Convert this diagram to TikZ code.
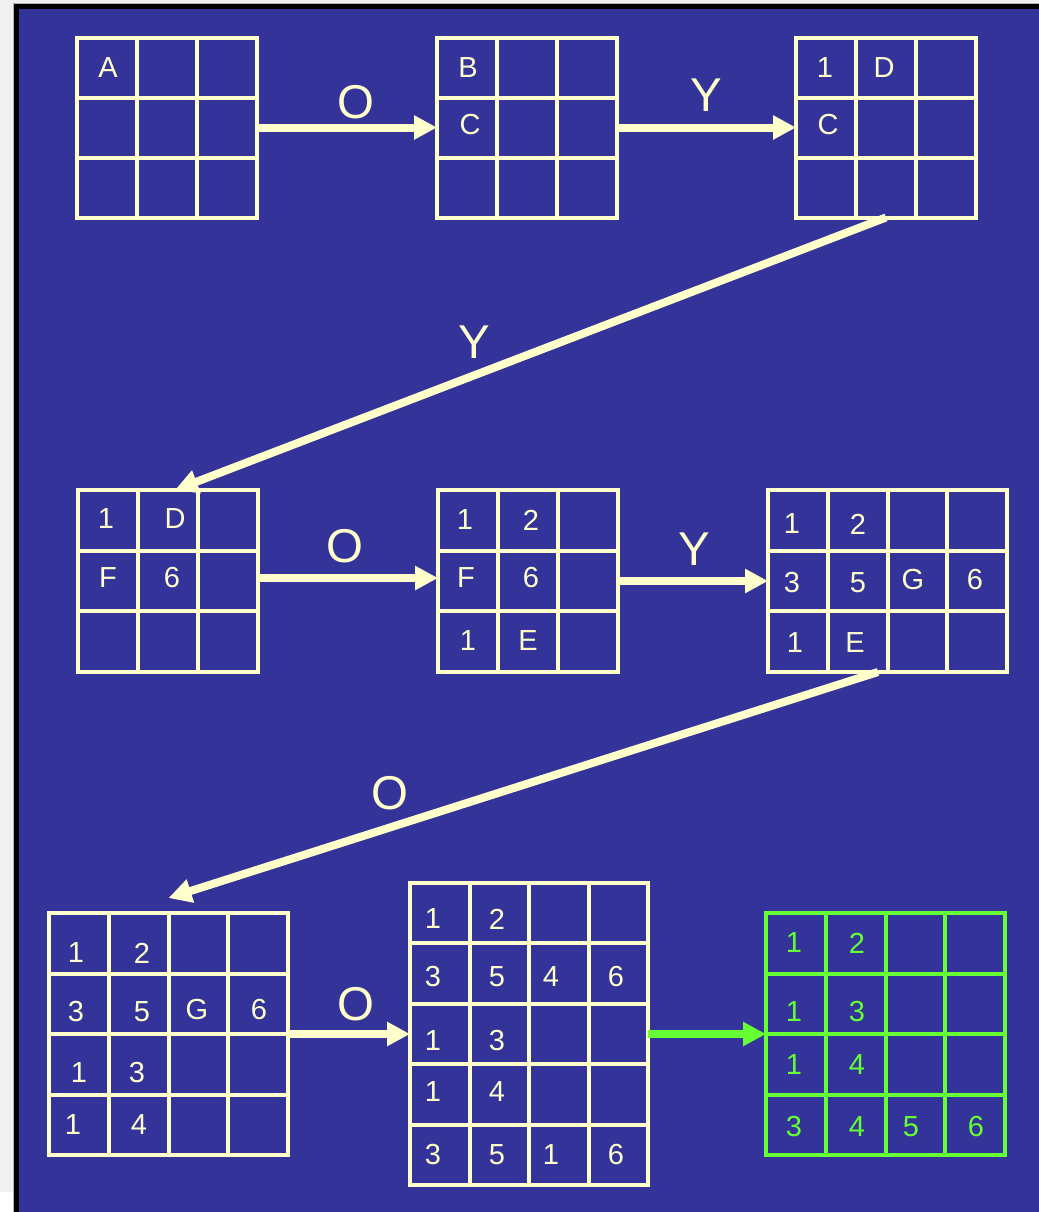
\documentclass[tikz,border=0pt]{standalone}
\usepackage{fontspec}
\setmainfont{Liberation Sans}
\usetikzlibrary{arrows.meta,calc}
\definecolor{slideblue}{RGB}{51,51,153}
\definecolor{chalk}{RGB}{255,255,204}
\definecolor{lime}{RGB}{102,255,51}
\begin{document}
\begin{tikzpicture}[x=0.2mm, y=-0.2mm,
    frame/.style={draw=chalk, line width=0.8mm, inner sep=0pt, outer sep=0pt},
    rule/.style={line width=0.8mm},
    cell/.style={text=chalk, inner sep=0pt, font=\fontsize{16.5}{16.5}\selectfont},
    lbl/.style={text=chalk, inner sep=0pt, font=\fontsize{27}{27}\selectfont},
    flow/.style={draw=chalk, line width=1.6mm, -{Triangle[length=4.6mm, width=4.6mm]}}]
    % slide background
    \fill[black!6] (0,0) rectangle (1039,1212);
    \fill[white] (0,1192) rectangle (13,1212);
    \fill[black!30] (13,3) rectangle (1039,1212);
    \fill[black] (14,4) rectangle (1039,1212);
    \fill[slideblue] (19,9) rectangle (1039,1212);
    % the nine tables
    \node[frame, minimum width=36mm, minimum height=36mm] (g1) at (167,127.5) {};
    \node[frame, minimum width=36mm, minimum height=36mm] (g2) at (527,127.5) {};
    \node[frame, minimum width=36mm, minimum height=36mm] (g3) at (886,127.5) {};
    \node[frame, minimum width=36mm, minimum height=36.4mm] (g4) at (168,581) {};
    \node[frame, minimum width=36mm, minimum height=36.4mm] (g5) at (528,581) {};
    \node[frame, minimum width=47.8mm, minimum height=36.4mm] (g6) at (887.5,581) {};
    \node[frame, minimum width=47.8mm, minimum height=48.4mm] (g7) at (168.5,1034) {};
    \node[frame, minimum width=47.6mm, minimum height=60.4mm] (g8) at (529,1034) {};
    \node[frame, draw=lime, minimum width=47.8mm, minimum height=48.4mm] (g9) at (885.5,1034) {};
    % inner rules
    \foreach \g/\nc/\nr/\col [evaluate=\nc as \lc using int(\nc-1),
        evaluate=\nr as \lr using int(\nr-1)] in
        {g1/3/3/chalk, g2/3/3/chalk, g3/3/3/chalk, g4/3/3/chalk, g5/3/3/chalk,
         g6/4/3/chalk, g7/4/4/chalk, g8/4/5/chalk, g9/4/4/lime} {
      \foreach \i in {1,...,\lc}
        \draw[rule, \col] ($(\g.north west)!\i/\nc!(\g.north east)$)
          -- ($(\g.south west)!\i/\nc!(\g.south east)$);
      \foreach \j in {1,...,\lr}
        \draw[rule, \col] ($(\g.north west)!\j/\nr!(\g.south west)$)
          -- ($(\g.north east)!\j/\nr!(\g.south east)$);
    }
    % cell entries
    \node[cell] (g1-r1c1) at (108,68) {A};
    \node[cell] (g2-r1c1) at (468,68) {B};
    \node[cell] (g2-r2c1) at (470,125) {C};
    \node[cell] (g3-r1c1) at (825,68) {1};
    \node[cell] (g3-r1c2) at (884,68) {D};
    \node[cell] (g3-r2c1) at (828,125) {C};
    \node[cell] (g4-r1c1) at (106,519) {1};
    \node[cell] (g4-r1c2) at (175,519) {D};
    \node[cell] (g4-r2c1) at (108,578) {F};
    \node[cell] (g4-r2c2) at (172,578) {6};
    \node[cell] (g5-r1c1) at (465,520) {1};
    \node[cell] (g5-r1c2) at (531,520) {2};
    \node[cell] (g5-r2c1) at (466,578) {F};
    \node[cell] (g5-r2c2) at (531,578) {6};
    \node[cell] (g5-r3c1) at (468,641) {1};
    \node[cell] (g5-r3c2) at (528,641) {E};
    \node[cell] (g6-r1c1) at (792,524) {1};
    \node[cell] (g6-r1c2) at (858,524) {2};
    \node[cell] (g6-r2c1) at (792,583) {3};
    \node[cell] (g6-r2c2) at (858,583) {5};
    \node[cell] (g6-r2c3) at (913,580) {G};
    \node[cell] (g6-r2c4) at (975,580) {6};
    \node[cell] (g6-r3c1) at (795,643) {1};
    \node[cell] (g6-r3c2) at (855,643) {E};
    \node[cell] (g7-r1c1) at (76,953) {1};
    \node[cell] (g7-r1c2) at (142,953) {2};
    \node[cell] (g7-r2c1) at (76,1012) {3};
    \node[cell] (g7-r2c2) at (142,1012) {5};
    \node[cell] (g7-r2c3) at (197,1010) {G};
    \node[cell] (g7-r2c4) at (259,1010) {6};
    \node[cell] (g7-r3c1) at (79,1073) {1};
    \node[cell] (g7-r3c2) at (137,1073) {3};
    \node[cell] (g7-r4c1) at (73,1125) {1};
    \node[cell] (g7-r4c2) at (139,1125) {4};
    \node[cell] (g8-r1c1) at (433,919) {1};
    \node[cell] (g8-r1c2) at (497,919) {2};
    \node[cell] (g8-r2c1) at (433,977) {3};
    \node[cell] (g8-r2c2) at (497,977) {5};
    \node[cell] (g8-r2c3) at (551,977) {4};
    \node[cell] (g8-r2c4) at (616,977) {6};
    \node[cell] (g8-r3c1) at (433,1041) {1};
    \node[cell] (g8-r3c2) at (497,1041) {3};
    \node[cell] (g8-r4c1) at (433,1092) {1};
    \node[cell] (g8-r4c2) at (497,1092) {4};
    \node[cell] (g8-r5c1) at (433,1155) {3};
    \node[cell] (g8-r5c2) at (497,1155) {5};
    \node[cell] (g8-r5c3) at (551,1155) {1};
    \node[cell] (g8-r5c4) at (616,1155) {6};
    \node[cell, text=lime] (g9-r1c1) at (794,943) {1};
    \node[cell, text=lime] (g9-r1c2) at (857,943) {2};
    \node[cell, text=lime] (g9-r2c1) at (794,1012) {1};
    \node[cell, text=lime] (g9-r2c2) at (857,1012) {3};
    \node[cell, text=lime] (g9-r3c1) at (794,1065) {1};
    \node[cell, text=lime] (g9-r3c2) at (857,1065) {4};
    \node[cell, text=lime] (g9-r4c1) at (794,1127) {3};
    \node[cell, text=lime] (g9-r4c2) at (857,1127) {4};
    \node[cell, text=lime] (g9-r4c3) at (911,1127) {5};
    \node[cell, text=lime] (g9-r4c4) at (976,1127) {6};
    % step labels
    \node[lbl] (o1) at (356,102) {O};
    \node[lbl] (y1) at (706,95) {Y};
    \node[lbl] (y2) at (474,342) {Y};
    \node[lbl] (o2) at (345,546) {O};
    \node[lbl] (y3) at (694,549) {Y};
    \node[lbl] (o3) at (390,793) {O};
    \node[lbl] (o4) at (356,1004) {O};
    % arrows
    \draw[flow] (g1) -- (g2);
    \draw[flow] (g2) -- (g3);
    \draw[flow] (g3.south) -- ([xshift=1.4mm]g4.north);
    \draw[flow] ([yshift=0.6mm]g4.east) -- ([yshift=0.6mm]g5.west);
    \draw[flow] (g5) -- (g6);
    \draw[flow] ([xshift=-1.9mm]g6.south) -- ([yshift=3mm]g7.north);
    \draw[flow] (g7) -- (g8);
    \draw[flow, draw=lime] (g8) -- (g9);
\end{tikzpicture}
\end{document}
